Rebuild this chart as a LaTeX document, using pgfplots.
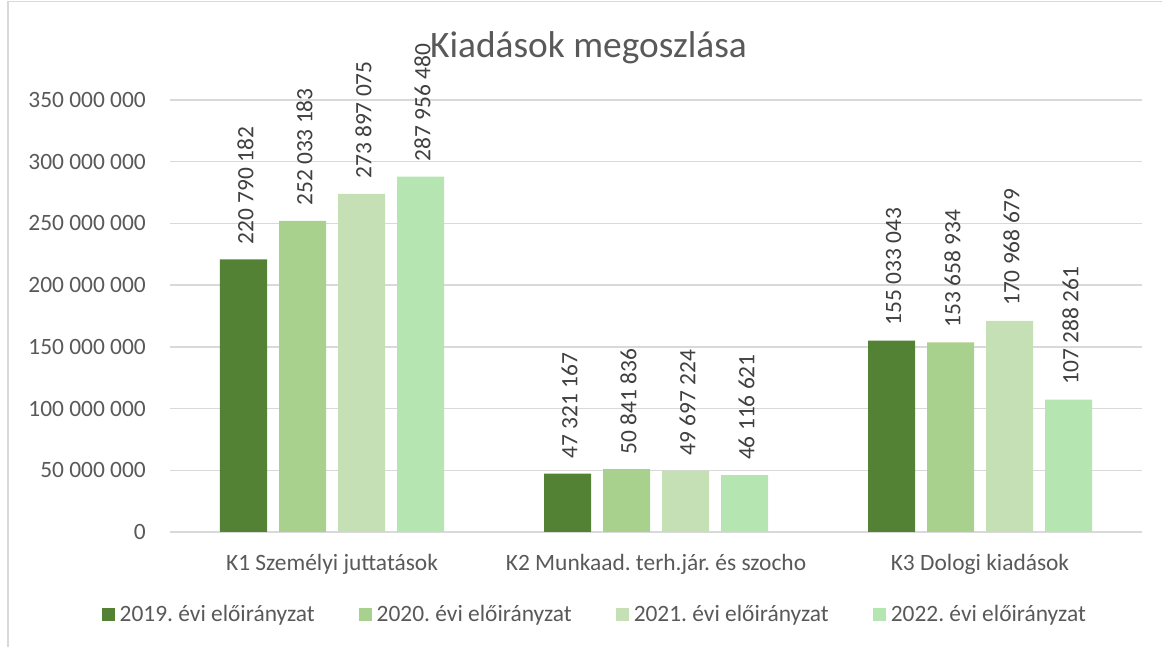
\documentclass[border=0pt]{standalone}
\usepackage{pgfplots}
\pgfplotsset{compat=1.18}
\usepackage{fontspec}
\setmainfont{Carlito}
\frenchspacing
\definecolor{cA}{HTML}{548235}
\definecolor{cB}{HTML}{A9D18E}
\definecolor{cC}{HTML}{C5E0B4}
\definecolor{cD}{HTML}{B5E6B2}
\definecolor{gridc}{HTML}{D9D9D9}
\definecolor{txt}{HTML}{595959}
\definecolor{lbl}{HTML}{404040}
\newcommand{\lf}{\fontsize{23.5}{28}\selectfont}
\begin{document}
\begin{tikzpicture}
\path[use as bounding box] (0,0) rectangle (1162bp,647bp);
\draw[gridc, line width=1.5bp] (8bp,0) -- (8bp,645.5bp) -- (1162bp,645.5bp);
\begin{axis}[
  at={(170bp,115bp)}, anchor=south west,
  scale only axis, width=972bp, height=432bp,
  ybar=12bp, bar width=47bp,
  xmin=-0.5, xmax=2.5, ymin=0, ymax=350000000,
  xtick={0,1,2},
  xticklabels={K1 Személyi juttatások, K2 Munkaad. terh.jár. és szocho, K3 Dologi kiadások},
  ytick={0,50000000,100000000,150000000,200000000,250000000,300000000,350000000},
  yticklabels={0,50 000 000,100 000 000,150 000 000,200 000 000,250 000 000,300 000 000,350 000 000},
  scaled y ticks=false,
  /pgf/number format/assume math mode=true,
  major tick length=0pt,
  axis line style={draw=none},
  ymajorgrids, grid style={gridc, line width=1.3bp},
  ticklabel style={font=\lf, text=txt},
  yticklabel style={inner sep=0pt, xshift=-24bp},
  xticklabel style={inner sep=0pt, yshift=-22bp},
  point meta=explicit symbolic,
  nodes near coords,
  every node near coord/.append style={rotate=90, anchor=west, font=\lf, text=lbl, inner sep=0pt, xshift=15bp, yshift=-2bp},
  legend columns=4,
  legend style={at={(0.437,-0.19)}, anchor=center, draw=none, font=\lf, text=txt,
    /tikz/every even column/.append style={column sep=42bp}},
  legend image code/.code={\fill[#1] (0bp,-6.5bp) rectangle (13bp,6.5bp); \path (16bp,0bp);},
]
\addplot[fill=cA, draw=none] coordinates {(0,220790182) [220 790 182] (1,47321167) [47 321 167] (2,155033043) [155 033 043]};
\addplot[fill=cB, draw=none] coordinates {(0,252033183) [252 033 183] (1,50841836) [50 841 836] (2,153658934) [153 658 934]};
\addplot[fill=cC, draw=none] coordinates {(0,273897075) [273 897 075] (1,49697224) [49 697 224] (2,170968679) [170 968 679]};
\addplot[fill=cD, draw=none] coordinates {(0,287956480) [287 956 480] (1,46116621) [46 116 621] (2,107288261) [107 288 261]};
\legend{2019. évi előirányzat, 2020. évi előirányzat, 2021. évi előirányzat, 2022. évi előirányzat}
\end{axis}
\node[font=\fontsize{37.5}{44}\selectfont, text=txt] at (588.5bp,599bp) {Kiadások megoszlása};
\end{tikzpicture}
\end{document}
